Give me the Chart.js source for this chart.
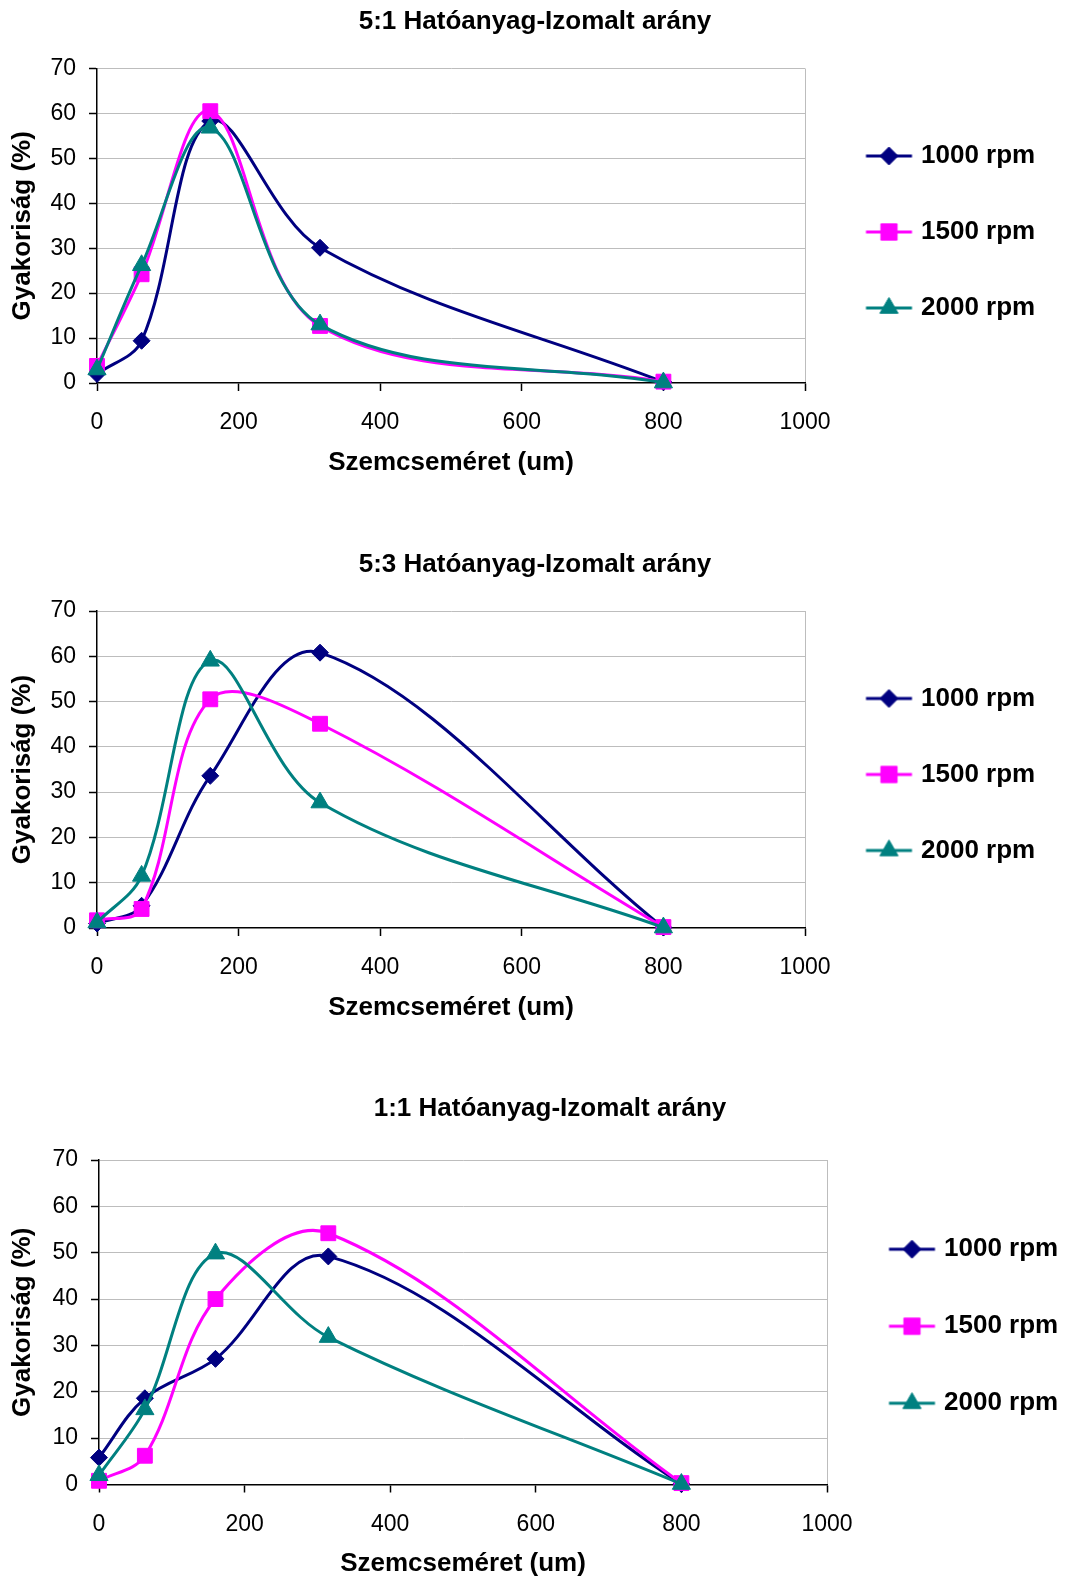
<!DOCTYPE html>
<html lang="hu">
<head>
<meta charset="UTF-8">
<title>Szemcseméret eloszlás</title>
<script src="https://cdn.jsdelivr.net/npm/chart.js"></script>
<style>
  html, body { margin: 0; padding: 0; background: #fff; overflow: hidden; }
  .box { position: absolute; left: 0; }
</style>
</head>
<body>
<div class="box" style="top:0;width:1070px;height:500px"><canvas id="c1"></canvas></div>
<div class="box" style="top:540px;width:1070px;height:500px"><canvas id="c2"></canvas></div>
<div class="box" style="top:1080px;width:1100px;height:502px"><canvas id="c3"></canvas></div>
<script>
// particle size classes (um) and series names
const xSizes = [0, 63, 160, 315, 800];
const seriesNames = ['1000 rpm', '1500 rpm', '2000 rpm'];
const titles = ['5:1 Hatóanyag-Izomalt arány', '5:3 Hatóanyag-Izomalt arány', '1:1 Hatóanyag-Izomalt arány'];

// frequency (%)
const r51_1000 = [2.0, 9.4, 58.3, 30.1, 0.2];
const r51_1500 = [3.8, 24.2, 60.5, 12.7, 0.3];
const r51_2000 = [3.0, 26.2, 56.8, 13.0, 0.1];

const r53_1000 = [1.0, 4.9, 33.6, 60.8, 0.1];
const r53_1500 = [1.7, 4.2, 50.5, 45.1, 0.2];
const r53_2000 = [1.2, 11.5, 59.0, 27.7, 0.1];

const r11_1000 = [5.8, 18.6, 27.1, 49.2, 0.1];
const r11_1500 = [0.8, 6.2, 40.0, 54.2, 0.3];
const r11_2000 = [2.0, 16.2, 49.8, 31.8, 0.1];

const colors = ['#000080', '#ff00ff', '#008080'];
const markers = ['rectRot', 'rect', 'triangle'];
const markerRadius = [8.5, 10.5, 10.5];
const legendMarkerRadius = [9, 11.5, 10.5];
const FONT = '"Liberation Sans", Arial, sans-serif';

// legend icon: short line with the marker on it (Excel style)
function makeIcon(color, style, radius) {
    const c = document.createElement('canvas');
    c.width = 64;
    c.height = 28;
    const g = c.getContext('2d');
    g.strokeStyle = color;
    g.fillStyle = color;
    g.lineWidth = 3;
    g.beginPath();
    g.moveTo(16.5, 14);
    g.lineTo(62.5, 14);
    g.stroke();
    g.lineWidth = 1;
    Chart.helpers.drawPoint(g, { pointStyle: style, radius: radius, rotation: 0, borderWidth: 1 }, 39.5, 14);
    return c;
}
const icons = colors.map((c, i) => makeIcon(c, markers[i], legendMarkerRadius[i]));

// fixes the width of the right-hand legend so the plot areas line up
const legendWidth = {
    id: 'legendWidth',
    beforeInit(chart, args, opts) {
        const fit = chart.legend.fit;
        chart.legend.fit = function () {
            fit.call(this);
            this.width = opts.width;
        };
    }
};

function makeChart(id, title, values, geo) {
    new Chart(document.getElementById(id), {
        type: 'line',
        data: {
            datasets: seriesNames.map((name, i) => ({
                label: name,
                data: xSizes.map((x, j) => ({ x: x, y: values[i][j] })),
                borderColor: colors[i],
                backgroundColor: colors[i],
                pointStyle: markers[i],
                pointRadius: markerRadius[i],
                pointBorderWidth: 1,
                borderWidth: 3,
                tension: 0.35,
                fill: false,
                clip: false,
                order: 3 - i
            }))
        },
        options: {
            responsive: true,
            maintainAspectRatio: false,
            animation: false,
            events: [],
            layout: { padding: { bottom: geo.padBottom } },
            scales: {
                x: {
                    type: 'linear',
                    min: 0,
                    max: 1000,
                    ticks: {
                        stepSize: 200, padding: 18, color: '#000',
                        format: { useGrouping: false },
                        font: { family: FONT, size: 23 }
                    },
                    grid: {
                        color: c => c.tick && c.tick.value === 1000 ? '#bdbdbd' : 'rgba(0,0,0,0)',
                        tickColor: '#000',
                        tickLength: 8,
                        tickWidth: 1.5
                    },
                    border: { color: '#000', width: 1.5 },
                    title: {
                        display: true,
                        text: 'Szemcseméret (um)',
                        color: '#000',
                        font: { family: FONT, size: 26, weight: 'bold' },
                        padding: 0
                    },
                    afterFit: s => { s.height = 95; }
                },
                y: {
                    min: 0,
                    max: 70,
                    ticks: { stepSize: 10, padding: 13, color: '#000', font: { family: FONT, size: 23 } },
                    grid: {
                        color: c => c.tick && c.tick.value === 0 ? 'rgba(0,0,0,0)' : '#bdbdbd',
                        tickColor: '#000',
                        tickLength: 8,
                        tickWidth: 1.5
                    },
                    border: { color: '#000', width: 1.5 },
                    title: {
                        display: true,
                        text: 'Gyakoriság (%)',
                        color: '#000',
                        font: { family: FONT, size: 26, weight: 'bold' },
                        padding: { top: 7, bottom: 0 }
                    },
                    afterFit: s => { s.width = geo.yWidth; }
                }
            },
            plugins: {
                title: {
                    display: true,
                    text: title,
                    color: '#000',
                    font: { family: FONT, size: 26, weight: 'bold' },
                    padding: geo.titlePad
                },
                legend: {
                    position: 'right',
                    fullSize: false,
                    title: { display: true, text: ' ', padding: 0, font: { size: 1, lineHeight: geo.legendTop + 'px' } },
                    labels: {
                        usePointStyle: true,
                        pointStyleWidth: 53,
                        padding: geo.legendPad,
                        color: '#000',
                        font: { family: FONT, size: 26, weight: 'bold' },
                        generateLabels: chart => Chart.defaults.plugins.legend.labels.generateLabels(chart).map(item => {
                            item.pointStyle = icons[item.datasetIndex];
                            return item;
                        }),
                        sort: (a, b) => a.datasetIndex - b.datasetIndex
                    }
                },
                tooltip: { enabled: false },
                legendWidth: { width: geo.legendWidth }
            }
        },
        plugins: [legendWidth]
    });
}

makeChart('c1', titles[0], [r51_1000, r51_1500, r51_2000],
    { titlePad: { top: 6.4, bottom: 30.9 }, padBottom: 22, yWidth: 97, legendWidth: 265, legendTop: 12.5, legendPad: 50 });
makeChart('c2', titles[1], [r53_1000, r53_1500, r53_2000],
    { titlePad: { top: 9.4, bottom: 30.4 }, padBottom: 17, yWidth: 97, legendWidth: 265, legendTop: 10, legendPad: 50 });
makeChart('c3', titles[2], [r11_1000, r11_1500, r11_2000],
    { titlePad: { top: 13.4, bottom: 35.4 }, padBottom: 2.5, yWidth: 99, legendWidth: 273, legendTop: 8, legendPad: 51 });
</script>
</body>
</html>
